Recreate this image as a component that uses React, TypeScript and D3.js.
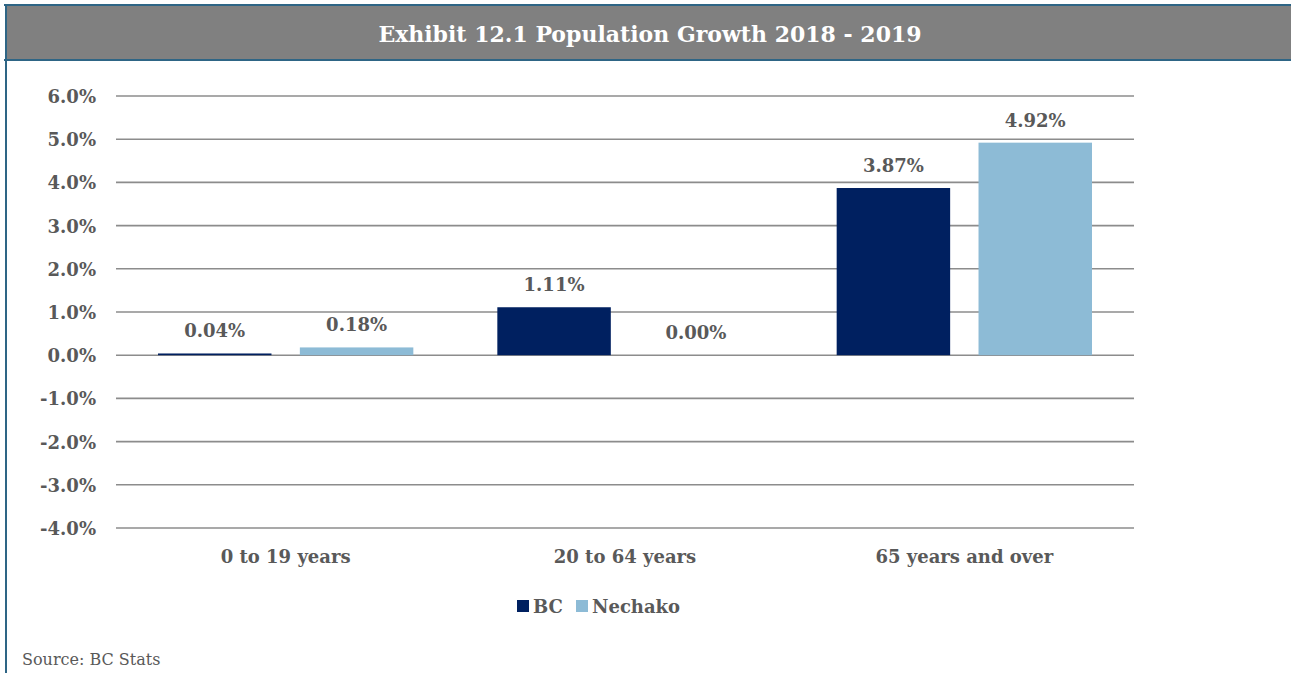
import React from "react";
import * as d3 from "d3";

const categories = ["0 to 19 years", "20 to 64 years", "65 years and over"];
const seriesNames = ["BC", "Nechako"];
const bcValues = [0.04, 1.11, 3.87];
const nechakoValues = [0.18, 0.0, 4.92];
const yTicks = [-4, -3, -2, -1, 0, 1, 2, 3, 4, 5, 6];

const colors: Record<string, string> = { BC: "#002060", Nechako: "#8DBBD6" };
const FONT = "'DejaVu Serif', serif";
const TEXT = "#595959";

export default function App() {
  const W = 1291, H = 673;
  const plotLeft = 116, plotRight = 1134;
  const y = d3.scaleLinear().domain([-4, 6]).range([528, 96]);
  const x0 = d3.scaleBand<string>().domain(categories).range([plotLeft, plotRight]);
  const bw = x0.bandwidth();
  const x1 = d3.scaleBand<string>().domain(seriesNames).range([42, bw - 42]).paddingInner(0.2);
  const values: Record<string, number[]> = { BC: bcValues, Nechako: nechakoValues };
  const fmt = (v: number) => v.toFixed(2) + "%";
  const FS = 18;

  return (
    <div style={{ position: "absolute", left: 0, top: 0 }}>
      <svg width={W} height={H} style={{ display: "block" }}>
        <rect x={0} y={0} width={W} height={H} fill="#ffffff" />
        {/* title bar */}
        <rect x={6} y={5} width={W} height={55} fill="#808080" />
        <line x1={4} x2={W} y1={5} y2={5} stroke="#2E6585" strokeWidth={2} />
        <line x1={4} x2={W} y1={60} y2={60} stroke="#2E6585" strokeWidth={2} />
        <line x1={6} x2={6} y1={4} y2={H} stroke="#2E6585" strokeWidth={2} />
        <text x={650} y={42} textAnchor="middle" fill="#ffffff" fontFamily={FONT} fontWeight="bold" fontSize={22}>
          Exhibit 12.1 Population Growth 2018 - 2019
        </text>

        {/* gridlines */}
        {yTicks.map((t) => (
          <g key={t}>
            <line x1={plotLeft} x2={plotRight} y1={y(t)} y2={y(t)} stroke="#8C8C8C" strokeWidth={1.6} />
            <text x={96} y={y(t) + 7} textAnchor="end" fill={TEXT} fontFamily={FONT} fontWeight="bold" fontSize={FS}>
              {t.toFixed(1) + "%"}
            </text>
          </g>
        ))}

        {/* bars */}
        {categories.map((c, i) => (
          <g key={c} transform={`translate(${x0(c)},0)`}>
            {seriesNames.map((s) => {
              const v = values[s][i];
              const top = y(Math.max(v, 0));
              const h = Math.abs(y(v) - y(0));
              const bx = x1(s)!;
              return (
                <g key={s}>
                  <rect x={bx} y={top} width={x1.bandwidth()} height={h} fill={colors[s]} />
                  <text x={bx + x1.bandwidth() / 2} y={top - 16} textAnchor="middle" fill={TEXT} fontFamily={FONT} fontWeight="bold" fontSize={FS}>
                    {fmt(v)}
                  </text>
                </g>
              );
            })}
            <text x={bw / 2} y={563} textAnchor="middle" fill={TEXT} fontFamily={FONT} fontWeight="bold" fontSize={FS}>
              {c}
            </text>
          </g>
        ))}

        {/* legend */}
        <g>
          <rect x={517} y={600} width={12} height={12} fill={colors.BC} />
          <text x={533} y={613} fill={TEXT} fontFamily={FONT} fontWeight="bold" fontSize={FS}>BC</text>
          <rect x={576} y={600} width={12} height={12} fill={colors.Nechako} />
          <text x={592} y={613} fill={TEXT} fontFamily={FONT} fontWeight="bold" fontSize={FS}>Nechako</text>
        </g>

        <text x={22} y={665} fill={TEXT} fontFamily={FONT} fontSize={16}>Source: BC Stats</text>
      </svg>
    </div>
  );
}
